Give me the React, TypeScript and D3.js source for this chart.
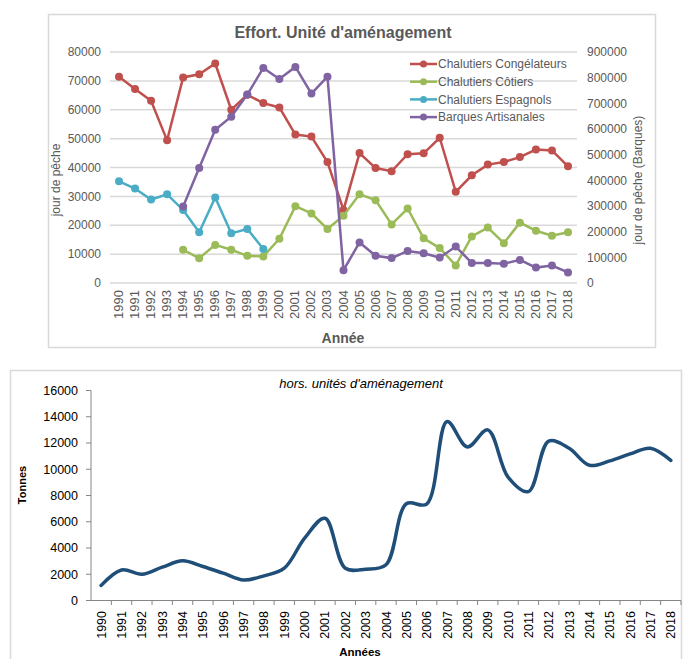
import React from "react";
import * as d3 from "d3";

const years = d3.range(1990, 2019).map(String);

// Top chart: effort (jour de pêche)
const congelateurs = [71400, 67200, 63100, 49400, 71200, 72300, 76000, 60000, 65200, 62300, 60800, 51400, 50700, 41900, 25300, 45000, 39800, 38700, 44600, 44900, 50300, 31600, 37300, 41000, 41900, 43600, 46200, 45900, 40400];
const cotiers = [null, null, null, null, 11500, 8600, 13200, 11500, 9400, 9200, 15300, 26600, 24100, 18700, 23300, 30700, 28700, 20300, 25800, 15500, 12100, 6100, 16100, 19200, 13800, 20900, 18100, 16400, 17600];
const espagnols = [35200, 32700, 28900, 30700, 25300, 17600, 29600, 17200, 18700, 11800, null, null, null, null, null, null, null, null, null, null, null, null, null, null, null, null, null, null, null];
const barques = [null, null, null, null, 298000, 448000, 597000, 648000, 734000, 838000, 795000, 842000, 738000, 804000, 50000, 158000, 106000, 97000, 125000, 116000, 99000, 142000, 78000, 78000, 75000, 90000, 60000, 68000, 41000];

const leftTicks = [0, 10000, 20000, 30000, 40000, 50000, 60000, 70000, 80000];
const rightTicks = [0, 100000, 200000, 300000, 400000, 500000, 600000, 700000, 800000, 900000];

// Bottom chart: hors unités d'aménagement (Tonnes)
const tonnes = [1150, 2330, 2000, 2540, 3020, 2590, 2080, 1560, 1880, 2460, 4750, 6270, 2460, 2390, 2720, 7370, 7350, 13640, 11700, 13000, 9400, 8300, 12150, 11600, 10300, 10640, 11170, 11600, 10670];
const tonnesTicks = [0, 2000, 4000, 6000, 8000, 10000, 12000, 14000, 16000];

const series = [
  { name: "Chalutiers Congélateurs", values: congelateurs, color: "#c0504d", axis: "left" },
  { name: "Chalutiers Côtiers", values: cotiers, color: "#9bbb59", axis: "left" },
  { name: "Chalutiers Espagnols", values: espagnols, color: "#4bacc6", axis: "left" },
  { name: "Barques Artisanales", values: barques, color: "#8064a2", axis: "right" },
];

const narrow = "'Liberation Sans Narrow', 'Arial Narrow', sans-serif";
const sans = "'Liberation Sans', Arial, sans-serif";

function TopChart() {
  const x = d3.scalePoint<string>().domain(years).range([119, 568]);
  const yL = d3.scaleLinear().domain([0, 80000]).range([283, 52]);
  const yR = d3.scaleLinear().domain([0, 900000]).range([283, 52]);
  const gray = "#595959";
  return (
    <g>
      <rect x={48.5} y={14.5} width={607} height={333} fill="#fff" stroke="#d9d9d9" strokeWidth={1.5} />
      <text x={343} y={38} textAnchor="middle" fontFamily={narrow} fontSize={16} fontWeight="bold" fill={gray}>
        Effort. Unité d'aménagement
      </text>
      {leftTicks.map((t) => (
        <g key={t}>
          <line x1={110} x2={577} y1={yL(t)} y2={yL(t)} stroke="#d9d9d9" strokeWidth={1.5} />
          <text x={101} y={yL(t)} dy="0.35em" textAnchor="end" fontFamily={narrow} fontSize={12} fill={gray}>
            {t}
          </text>
        </g>
      ))}
      {rightTicks.map((t) => (
        <text key={t} x={587} y={yR(t)} dy="0.35em" textAnchor="start" fontFamily={narrow} fontSize={12} fill={gray}>
          {t}
        </text>
      ))}
      {years.map((yr) => (
        <text key={yr} transform={`translate(${x(yr)! + 4},290) rotate(-90)`} textAnchor="end" fontFamily={narrow} fontSize={13} fill={gray}>
          {yr}
        </text>
      ))}
      <text x={343} y={343} textAnchor="middle" fontFamily={narrow} fontSize={14} fontWeight="bold" fill={gray}>
        Année
      </text>
      <text transform="translate(60,180) rotate(-90)" textAnchor="middle" fontFamily={sans} fontSize={12} fill={gray}>
        jour de pêche
      </text>
      <text transform="translate(642,180) rotate(-90)" textAnchor="middle" fontFamily={sans} fontSize={12} fill={gray}>
        jour de pêche (Barques)
      </text>
      {series.map((s) => {
        const y = s.axis === "left" ? yL : yR;
        const line = d3
          .line<number | null>()
          .defined((d) => d != null)
          .x((_, i) => x(years[i])!)
          .y((d) => y(d as number));
        return (
          <g key={s.name}>
            <path d={line(s.values) || ""} fill="none" stroke={s.color} strokeWidth={2.5} />
            {s.values.map((v, i) =>
              v == null ? null : <circle key={i} cx={x(years[i])} cy={y(v)} r={4} fill={s.color} />
            )}
          </g>
        );
      })}
      {series.map((s, i) => {
        const ly = 64 + i * 17.7;
        return (
          <g key={s.name}>
            <line x1={410} x2={437} y1={ly} y2={ly} stroke={s.color} strokeWidth={2.5} />
            <circle cx={423.5} cy={ly} r={3.5} fill={s.color} />
            <text x={438} y={ly} dy="0.35em" fontFamily={narrow} fontSize={12} fill={gray}>
              {s.name}
            </text>
          </g>
        );
      })}
    </g>
  );
}

function BottomChart() {
  const x = d3.scaleBand<string>().domain(years).range([91, 681]);
  const y = d3.scaleLinear().domain([0, 16000]).range([600.5, 390.5]);
  const cx = (i: number) => x(years[i])! + x.bandwidth() / 2;
  const line = d3
    .line<number>()
    .x((_, i) => cx(i))
    .y((d) => y(d))
    .curve(d3.curveCatmullRom.alpha(0.5));
  return (
    <g>
      <rect x={10.5} y={370.5} width={671} height={300} fill="#fff" stroke="#d9d9d9" strokeWidth={1.5} />
      <text x={361} y={388} textAnchor="middle" fontFamily={sans} fontSize={13} fontStyle="italic" fill="#000">
        hors. unités d'aménagement
      </text>
      <line x1={91} x2={91} y1={390.5} y2={600.5} stroke="#868686" strokeWidth={1} />
      {tonnesTicks.map((t) => (
        <g key={t}>
          <line x1={86} x2={91} y1={y(t)} y2={y(t)} stroke="#868686" />
          <text x={78} y={y(t)} dy="0.35em" textAnchor="end" fontFamily={sans} fontSize={12.5} fill="#000">
            {t}
          </text>
        </g>
      ))}
      <line x1={91} x2={681} y1={600.5} y2={600.5} stroke="#868686" />
      {years.map((yr) => (
        <line key={"t" + yr} x1={x(yr)! + x.bandwidth()} x2={x(yr)! + x.bandwidth()} y1={600.5} y2={605} stroke="#868686" />
      ))}
      {years.map((yr) => (
        <text key={yr} transform={`translate(${x(yr)! + x.bandwidth() / 2 + 4.5},611) rotate(-90)`} textAnchor="end" fontFamily={sans} fontSize={12.5} fill="#000">
          {yr}
        </text>
      ))}
      <text transform="translate(26,485) rotate(-90)" textAnchor="middle" fontFamily={sans} fontSize={11} fontWeight="bold" fill="#000">
        Tonnes
      </text>
      <text x={360} y={656} textAnchor="middle" fontFamily={sans} fontSize={11.5} fontWeight="bold" fill="#000">
        Années
      </text>
      <path d={line(tonnes) || ""} fill="none" stroke="#1f4e79" strokeWidth={3.5} strokeLinecap="round" />
    </g>
  );
}

export default function App() {
  return (
    <svg width={691} height={659} style={{ position: "absolute", left: 0, top: 0, background: "#fff" }}>
      <rect width={691} height={659} fill="#fff" />
      <TopChart />
      <BottomChart />
    </svg>
  );
}
